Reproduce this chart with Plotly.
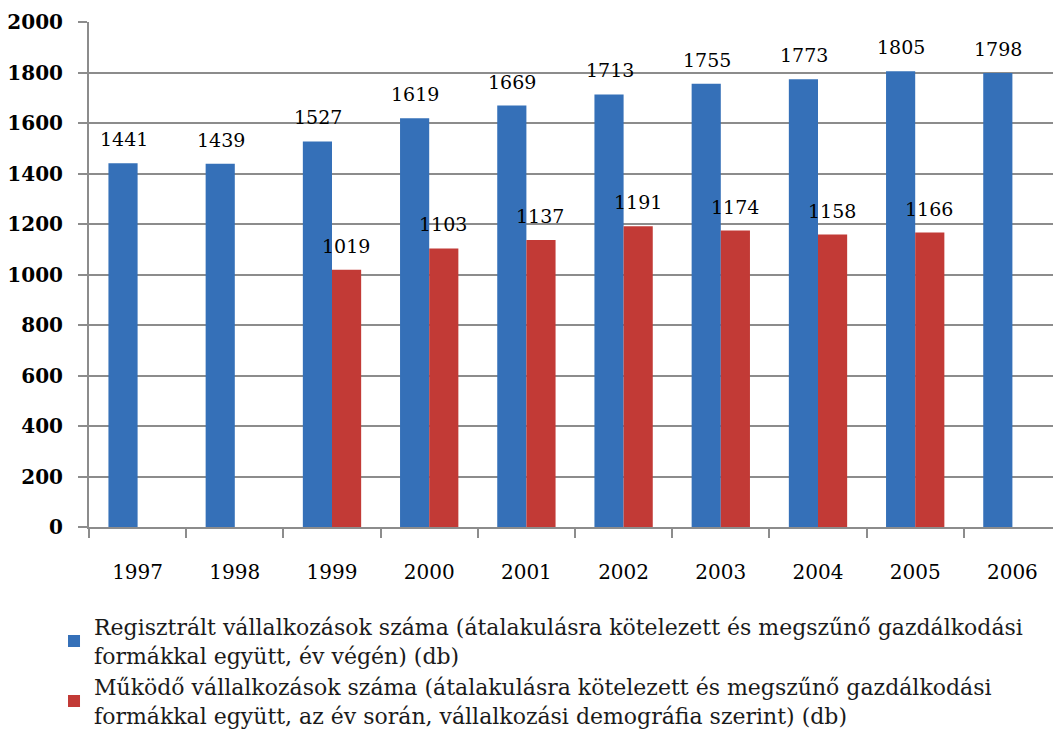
import plotly.graph_objects as go

years = ["1997", "1998", "1999", "2000", "2001", "2002", "2003", "2004", "2005", "2006"]
registered = [1441, 1439, 1527, 1619, 1669, 1713, 1755, 1773, 1805, 1798]
operating = [None, None, 1019, 1103, 1137, 1191, 1174, 1158, 1166, None]

name_reg = "Regisztrált vállalkozások száma (átalakulásra kötelezett és megszűnő gazdálkodási<br>formákkal együtt, év végén) (db)"
name_op = "Működő vállalkozások száma (átalakulásra kötelezett és megszűnő gazdálkodási<br>formákkal együtt, az év során, vállalkozási demográfia szerint) (db)"

font_family = "DejaVu Serif"

fig = go.Figure()
fig.add_trace(go.Bar(
    x=years, y=registered, name=name_reg,
    marker=dict(color="#3570b8", line=dict(width=0)),
))
fig.add_trace(go.Bar(
    x=years, y=operating, name=name_op,
    marker=dict(color="#c23a36", line=dict(width=0)),
))

# data labels tied to the bar values (x given as category index)
for i, v in enumerate(registered):
    fig.add_annotation(x=i, y=v, text=str(v), showarrow=False, xref="x", yref="y",
                       xshift=-14, yshift=24, yanchor="middle",
                       font=dict(family=font_family, size=19, color="#000000"))
for i, v in enumerate(operating):
    if v is None:
        continue
    fig.add_annotation(x=i, y=v, text=str(v), showarrow=False, xref="x", yref="y",
                       xshift=14, yshift=24, yanchor="middle",
                       font=dict(family=font_family, size=19, color="#000000"))

fig.update_layout(
    width=1061, height=751,
    margin=dict(l=81, r=8, t=14, b=232, autoexpand=False),
    paper_bgcolor="white", plot_bgcolor="white",
    barmode="group", bargap=0.4, bargroupgap=0.0,
    font=dict(family=font_family, size=19, color="#000000"),
    showlegend=True,
    legend=dict(
        x=-0.036, y=-0.156, xanchor="left", yanchor="top",
        orientation="v", font=dict(family=font_family, size=22, color="#1a1a1a"),
        tracegroupgap=10, itemwidth=30, bgcolor="rgba(0,0,0,0)",
    ),
)
fig.update_xaxes(
    type="category", showgrid=False, showline=True, linecolor="#8c8c8c", linewidth=2,
    ticks="outside", tickson="boundaries", ticklen=9, tickcolor="#8c8c8c", tickwidth=2,
    tickfont=dict(family=font_family, size=20, color="#000000"), ticklabelstandoff=26,
    automargin=False,
)
fig.update_yaxes(
    range=[0, 2000], dtick=200, showgrid=True, gridcolor="#8c8c8c", gridwidth=2,
    showline=True, linecolor="#8c8c8c", linewidth=2, zeroline=False,
    ticks="outside", ticklen=9, tickcolor="#8c8c8c", tickwidth=2,
    tickfont=dict(family=font_family, size=20, color="#000000", weight="bold"),
    ticklabelstandoff=11, automargin=False,
)

fig.write_html("out.html")
